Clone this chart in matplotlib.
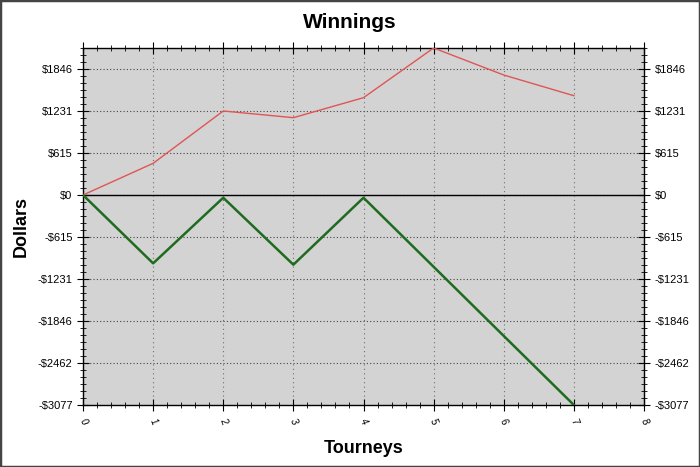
"""Winnings chart: cumulative dollars per tourney."""

import matplotlib
matplotlib.use('Agg')
import matplotlib.pyplot as plt
from matplotlib.patches import Rectangle
from matplotlib.ticker import AutoMinorLocator, FixedLocator

tourneys = [0, 1, 2, 3, 4, 5, 6, 7]
red_series = [0, 464, 1231, 1133, 1426, 2154, 1758, 1455]
green_series = [0, -1001, -40, -1021, -40, -1052, -2065, -3077]

y_ticks = [1846, 1231, 615, 0, -615, -1231, -1846, -2462, -3077]
y_labels = ['$1846', '$1231', '$615', '$0', '-$615', '-$1231', '-$1846', '-$2462', '-$3077']
x_ticks = [0, 1, 2, 3, 4, 5, 6, 7, 8]

plt.rcParams['font.family'] = ['Liberation Sans', 'DejaVu Sans']

fig = plt.figure(figsize=(7, 4.67), dpi=100)
ax = fig.add_axes([83 / 700, 1 - 405 / 467, (644 - 83) / 700, (405 - 48) / 467])
ax.set_facecolor('#d3d3d3')

ax.plot(tourneys, red_series, color='#e05555', lw=1.0, zorder=3)
ax.plot(tourneys, green_series, color='#1f6b1f', lw=1.8, zorder=3)
ax.axhline(0, color='black', lw=1.0, zorder=2)

ax.set_xlim(0, 8)
ax.set_ylim(-3077, 2154)
ax.yaxis.set_major_locator(FixedLocator(y_ticks))
ax.set_yticklabels(y_labels)
ax.set_xticks(x_ticks)
ax.xaxis.set_minor_locator(AutoMinorLocator(5))
ax.yaxis.set_minor_locator(AutoMinorLocator(6))

ax.grid(True, which='major', axis='y', color='#444444', linestyle=(0, (1, 2)), lw=0.8)
ax.grid(True, which='major', axis='x', color='#707070', linestyle=(0, (1, 3)), lw=0.8)
ax.tick_params(which='both', direction='inout', top=True, right=True,
               labelright=True, labelsize=8, color='black')
ax.tick_params(which='major', length=8)
ax.tick_params(which='minor', length=5)
ax.tick_params(axis='x', labelrotation=-70, labelsize=7, pad=5)

for side in ['left', 'right', 'top', 'bottom']:
    ax.spines[side].set_color('black')
    ax.spines[side].set_linewidth(1.0)

fig.suptitle('Winnings', y=1 - 22 / 467, va='center', fontsize=15, fontweight='bold')
ax.set_xlabel('Tourneys', fontsize=13, fontweight='bold', labelpad=10)
ax.set_ylabel('Dollars', fontsize=13, fontweight='bold', labelpad=6)

fig.patches.append(Rectangle((0, 0), 1, 1, transform=fig.transFigure,
                             fill=False, edgecolor='#444444', lw=2.5))

fig.savefig('out.png', dpi=100)
